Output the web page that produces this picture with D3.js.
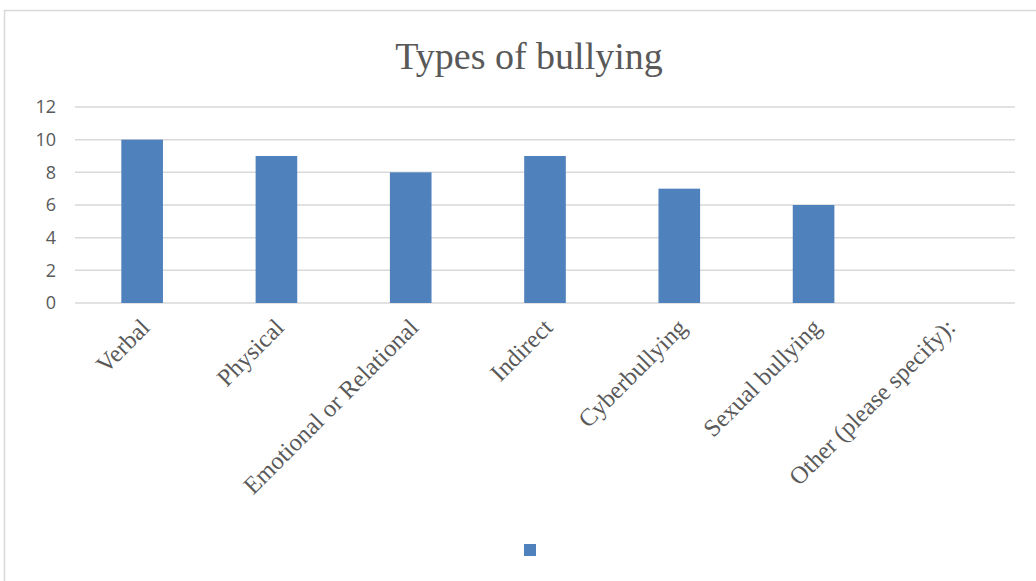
<!DOCTYPE html>
<html>
<head>
<meta charset="utf-8">
<script src="https://cdn.jsdelivr.net/npm/d3@7"></script>
<style>
  body { margin: 0; background: #fff; }
</style>
</head>
<body>
<div id="chart"></div>
<script>
const categories = ["Verbal", "Physical", "Emotional or Relational", "Indirect", "Cyberbullying", "Sexual bullying", "Other (please specify):"];
const counts = [10, 9, 8, 9, 7, 6, 0];
const yTicks = [0, 2, 4, 6, 8, 10, 12];

const svg = d3.select("#chart").append("svg")
  .attr("width", 1036)
  .attr("height", 581);

// chart frame
svg.append("rect")
  .attr("x", 4.5).attr("y", 10.5)
  .attr("width", 1040).attr("height", 580)
  .attr("fill", "#fff")
  .attr("stroke", "#d9d9d9")
  .attr("stroke-width", 1.5);

const x = d3.scaleBand()
  .domain(categories)
  .range([75, 1015])
  .paddingInner(0.69)
  .paddingOuter(0.345);

const y = d3.scaleLinear()
  .domain([0, 12])
  .range([303, 107]);

// gridlines
svg.append("g")
  .selectAll("line")
  .data(yTicks)
  .enter().append("line")
  .attr("x1", 75).attr("x2", 1015)
  .attr("y1", d => y(d)).attr("y2", d => y(d))
  .attr("stroke", "#d9d9d9")
  .attr("stroke-width", 1.5);

// y axis labels
const yAxis = svg.append("g")
  .attr("transform", "translate(56,0)")
  .call(d3.axisLeft(y).tickValues(yTicks).tickSize(0).tickPadding(0));
yAxis.select(".domain").remove();
yAxis.selectAll("text")
  .attr("fill", "#595959")
  .style("font-family", "'Open Sans', 'Noto Sans', sans-serif")
  .style("font-size", "18px");

// bars
svg.append("g")
  .selectAll("rect")
  .data(categories)
  .enter().append("rect")
  .attr("x", d => x(d))
  .attr("y", (d, i) => y(counts[i]))
  .attr("width", x.bandwidth())
  .attr("height", (d, i) => y(0) - y(counts[i]))
  .attr("fill", "#4f81bd");

// category labels, rotated
svg.append("g")
  .selectAll("text")
  .data(categories)
  .enter().append("text")
  .attr("transform", d => `translate(${x(d) + x.bandwidth() / 2 + 9},${329}) rotate(-45)`)
  .attr("text-anchor", "end")
  .attr("fill", "#595959")
  .style("font-family", "'Liberation Serif', 'DejaVu Serif', serif")
  .style("font-size", "24.5px")
  .text(d => d);

// title
svg.append("text")
  .attr("x", 529).attr("y", 69)
  .attr("text-anchor", "middle")
  .attr("fill", "#595959")
  .style("font-family", "'Liberation Serif', 'DejaVu Serif', serif")
  .style("font-size", "38px")
  .text("Types of bullying");

// legend marker (series has no name)
svg.append("rect")
  .attr("x", 524).attr("y", 544)
  .attr("width", 12).attr("height", 12)
  .attr("fill", "#4f81bd");
</script>
</body>
</html>
